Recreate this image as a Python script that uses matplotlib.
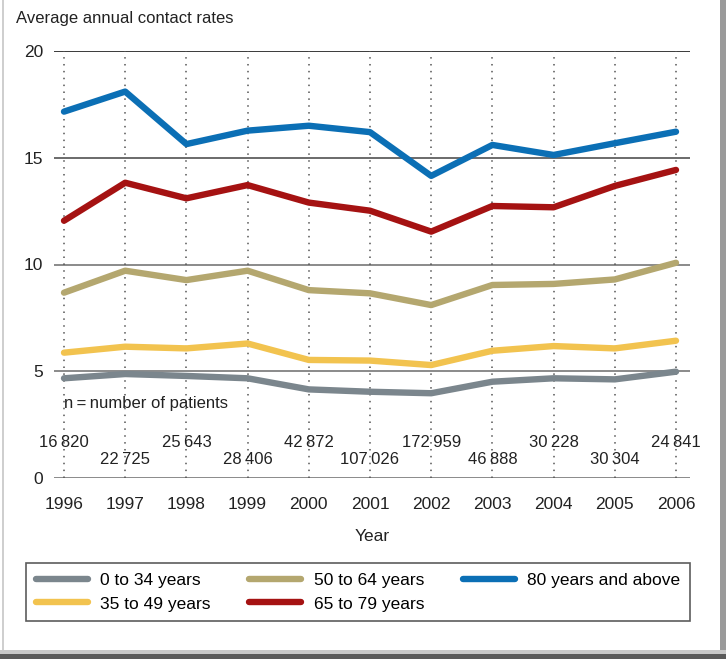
"""Average annual contact rates by age group, 1996-2006."""
import matplotlib
matplotlib.use("Agg")
import matplotlib.pyplot as plt
from matplotlib.lines import Line2D
from matplotlib.patches import Rectangle

plt.rcParams["font.family"] = ["Liberation Sans", "DejaVu Sans"]

years = [1996, 1997, 1998, 1999, 2000, 2001, 2002, 2003, 2004, 2005, 2006]

age_0_34 = [4.67, 4.87, 4.78, 4.67, 4.15, 4.04, 3.97, 4.51, 4.67, 4.62, 4.98]
age_35_49 = [5.87, 6.15, 6.07, 6.30, 5.53, 5.50, 5.29, 5.96, 6.18, 6.07, 6.43]
age_50_64 = [8.68, 9.71, 9.27, 9.71, 8.80, 8.65, 8.10, 9.04, 9.09, 9.30, 10.08]
age_65_79 = [12.05, 13.83, 13.10, 13.72, 12.90, 12.52, 11.54, 12.74, 12.68, 13.68, 14.43]
age_80_up = [17.16, 18.10, 15.64, 16.27, 16.50, 16.20, 14.15, 15.60, 15.13, 15.68, 16.22]

patients = ["16\u2009820", "22\u2009725", "25\u2009643", "28\u2009406", "42\u2009872",
            "107\u2009026", "172\u2009959", "46\u2009888", "30\u2009228", "30\u2009304",
            "24\u2009841"]

series = [
    ("0 to 34 years", age_0_34, "#7b868d"),
    ("35 to 49 years", age_35_49, "#f2c34f"),
    ("50 to 64 years", age_50_64, "#b4a76f"),
    ("65 to 79 years", age_65_79, "#a51212"),
    ("80 years and above", age_80_up, "#0b6fb5"),
]

W, H = 726, 659
fig = plt.figure(figsize=(W / 100, H / 100), dpi=100)
fig.patch.set_facecolor("white")

# window-like frame around the figure
fig.add_artist(Rectangle((2 / W, 0), 1.5 / W, 1, transform=fig.transFigure,
                         color="#cfcfcf", lw=0))
fig.add_artist(Rectangle((720 / W, 0), 6 / W, 1, transform=fig.transFigure,
                         color="#9a9a9a", lw=0))
fig.add_artist(Rectangle((0, 0), 1, 5 / H, transform=fig.transFigure,
                         color="#5a5a5a", lw=0))
fig.add_artist(Rectangle((0, 5 / H), 1, 4 / H, transform=fig.transFigure,
                         color="#c8c8c8", lw=0))

x0, x1 = 54, 690
y0, y1 = 478, 51
ax = fig.add_axes([x0 / W, 1 - y0 / H, (x1 - x0) / W, (y0 - y1) / H])
px_per_year = (676 - 64) / 10
ax.set_xlim(1996 - (64 - x0) / px_per_year, 2006 + (x1 - 676) / px_per_year)
ax.set_ylim(0, 20)
for s in ax.spines.values():
    s.set_visible(False)

for v, c in [(0, "#8a8a8a"), (5, "#8a8a8a"), (10, "#8a8a8a"), (15, "#6a6a6a"), (20, "#3a3a3a")]:
    ax.axhline(v, color=c, lw=1.4, zorder=1)
for yr in years:
    ax.plot([yr, yr], [0, 20], color="#555555", lw=1.1, ls=(0, (1, 3.5)), zorder=1)

for label, vals, color in series:
    ax.plot(years, vals, color=color, lw=4.6, solid_capstyle="round",
            solid_joinstyle="round", zorder=3, clip_on=False)

ax.set_yticks([0, 5, 10, 15, 20])
ax.set_xticks(years)
ax.tick_params(axis="both", length=0, labelsize=12.5, colors="#222222")
ax.tick_params(axis="y", pad=8)
ax.tick_params(axis="x", pad=14)
ax.set_xlabel("Year", fontsize=12.5, color="#222222", labelpad=12)

ax.text(1996, 3.47, "n\u2009=\u2009number of patients", fontsize=12, color="#222222",
        ha="left", va="center")
for i, (yr, n) in enumerate(zip(years, patients)):
    yv = 1.64 if i % 2 == 0 else 0.86
    ax.text(yr, yv, n, fontsize=12, ha="center", va="center", color="#222222",
            clip_on=False)

fig.text(16 / W, 1 - 18 / H, "Average annual contact rates", fontsize=12,
         color="#222222", ha="left", va="center")

handles = [Line2D([], [], color=c, lw=4.6, solid_capstyle="round") for _, _, c in series]
labels = [l for l, _, _ in series]
leg = fig.legend(handles, labels, ncol=3, loc="upper left",
                 bbox_to_anchor=(26 / W, 1 - 624 / H, (690 - 26) / W, 61 / H),
                 mode="expand", borderaxespad=0, fontsize=12.5, frameon=True,
                 fancybox=False, handlelength=3.0, handletextpad=0.7,
                 columnspacing=1.5, labelspacing=0.5, borderpad=0.55)
leg.get_frame().set_edgecolor("#333333")
leg.get_frame().set_linewidth(1.2)

fig.savefig("out.png", dpi=100)
